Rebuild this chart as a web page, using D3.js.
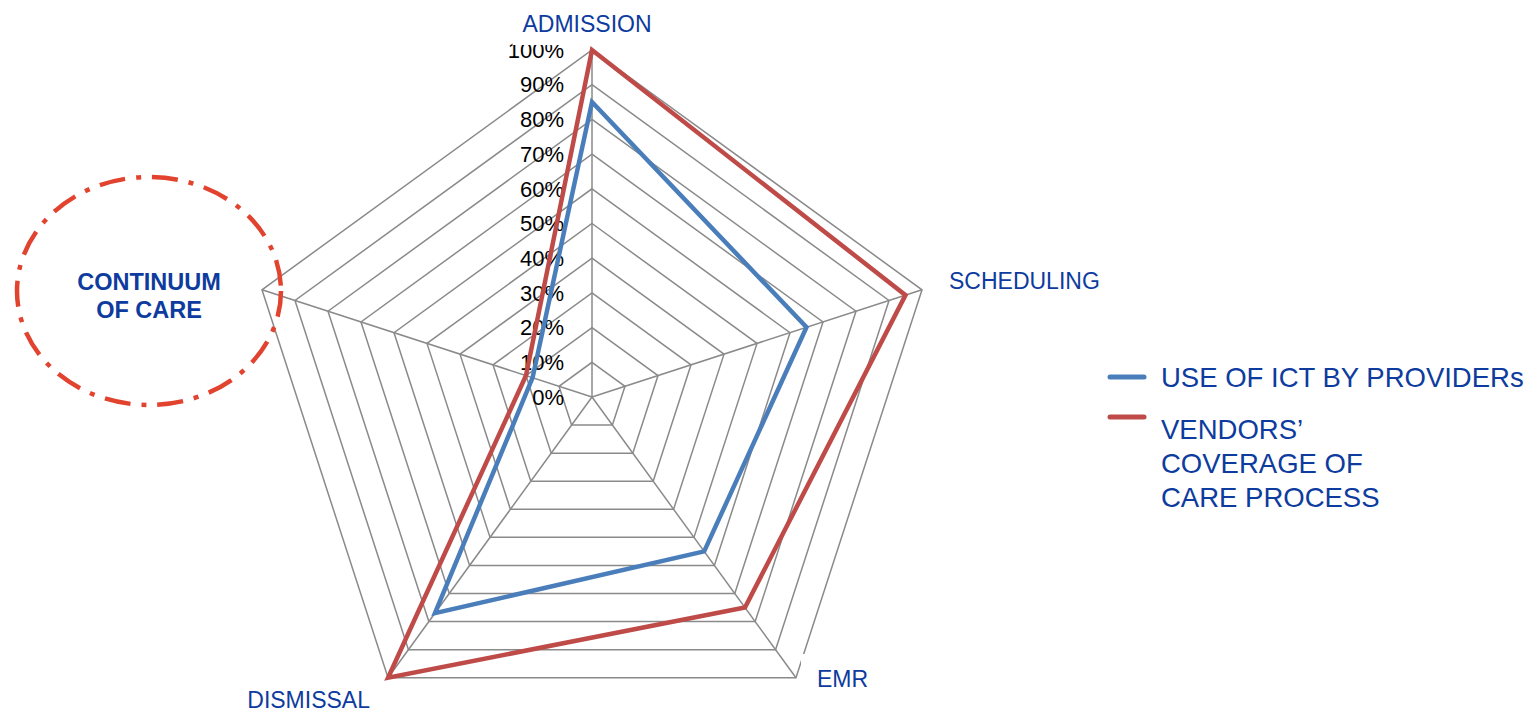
<!DOCTYPE html>
<html>
  <head>
    <meta charset="utf-8">
    <title>Continuum of care radar</title>
    <style>
      body { margin: 0; background: #fff; }
      text { font-family: "Liberation Sans", Arial, sans-serif; }
    </style>
  </head>
  <body>
    <script src="https://d3js.org/d3.v7.min.js"></script>
    <svg id="chart" width="1537" height="712"></svg>
    <script>
      const categories = ["ADMISSION", "SCHEDULING", "EMR", "DISMISSAL", "CONTINUUM OF CARE"]
      const providers = [85, 65, 55, 77, 18]
      const vendors = [100, 95, 75, 100, 20]
      const tickValues = [0, 10, 20, 30, 40, 50, 60, 70, 80, 90, 100]
      const seriesNames = ["USE OF ICT BY PROVIDERs", "VENDORS’\nCOVERAGE OF\nCARE PROCESS"]

      const cx = 592, cy = 397, outer = 347
      const blue = "#4a7ebb", red = "#be4b48", labelBlue = "#0d3b9e"

      const svg = d3.select("#chart")
      const g = svg.append("g").attr("transform", `translate(${cx},${cy})`)

      const r = d3.scaleLinear([0, 100], [0, outer])
      const angle = d3.scaleLinear([0, categories.length], [0, 2 * Math.PI])

      const radial = d3.lineRadial()
        .angle((d, i) => angle(i))
        .radius(d => r(d))
        .curve(d3.curveLinearClosed)

      // grid rings
      g.selectAll("path.ring")
        .data(tickValues.slice(1))
        .join("path")
          .attr("class", "ring")
          .attr("d", t => radial(categories.map(() => t)))
          .attr("fill", "none")
          .attr("stroke", "#8a8a8a")
          .attr("stroke-width", 1.5)

      // spokes
      g.selectAll("line.spoke")
        .data(categories)
        .join("line")
          .attr("class", "spoke")
          .attr("x2", (d, i) => r(100) * Math.sin(angle(i)))
          .attr("y2", (d, i) => -r(100) * Math.cos(angle(i)))
          .attr("stroke", "#8a8a8a")
          .attr("stroke-width", 1.5)

      // tick labels along the first axis
      g.selectAll("text.tick")
        .data(tickValues)
        .join("text")
          .attr("class", "tick")
          .attr("x", -28)
          .attr("y", t => -r(t))
          .attr("dy", "0.35em")
          .attr("text-anchor", "end")
          .style("font-size", "22px")
          .style("fill", "#000")
          .text(t => t + "%")

      // series
      const series = [
        { name: seriesNames[0], values: providers, color: blue },
        { name: seriesNames[1], values: vendors, color: red }
      ]
      g.selectAll("path.series")
        .data(series)
        .join("path")
          .attr("class", "series")
          .attr("d", d => radial(d.values))
          .attr("fill", "none")
          .attr("stroke", d => d.color)
          .attr("stroke-width", 4.5)
          .attr("stroke-linejoin", "miter")

      // axis labels (the fifth one is set inside the ellipse)
      const labelPos = [
        { x: -5, y: -365, anchor: "middle", pad: [10, 8] },
        { x: 357, y: -108, anchor: "start", pad: [0, 0] },
        { x: 225, y: 290, anchor: "start", pad: [16, 12] },
        { x: -222, y: 311, anchor: "end", pad: [0, 0] }
      ]
      categories.slice(0, 4).forEach((c, i) => {
        const p = labelPos[i]
        const bg = g.append("rect").attr("fill", "#fff")
        const t = g.append("text")
          .attr("x", p.x)
          .attr("y", p.y)
          .attr("text-anchor", p.anchor)
          .style("font-size", "23px")
          .style("fill", labelBlue)
          .text(c)
        const b = t.node().getBBox()
        bg.attr("x", b.x - p.pad[0]).attr("y", b.y - p.pad[1])
          .attr("width", b.width + 2 * p.pad[0]).attr("height", b.height + 2 * p.pad[1])
      })

      // continuum of care callout
      const call = svg.append("g").attr("transform", "translate(149,291)")
      call.append("ellipse")
        .attr("rx", 132)
        .attr("ry", 114)
        .attr("fill", "none")
        .attr("stroke", "#e1432f")
        .attr("stroke-width", 4.5)
        .attr("stroke-dasharray", "26 11 5 11")
      call.selectAll("text")
        .data(categories[4].replace("UUM ", "UUM\n").split("\n"))
        .join("text")
          .attr("y", (d, i) => -1 + i * 28)
          .attr("text-anchor", "middle")
          .style("font-size", "23.5px")
          .style("font-weight", "bold")
          .style("fill", labelBlue)
          .text(d => d)

      // legend
      const legend = svg.append("g").attr("transform", "translate(1110,377)")
      const items = legend.selectAll("g")
        .data(series)
        .join("g")
          .attr("transform", (d, i) => `translate(0,${i * 40})`)
      items.append("line")
        .attr("x2", 34)
        .attr("stroke", d => d.color)
        .attr("stroke-width", 5)
        .attr("stroke-linecap", "round")
      items.append("text")
        .attr("x", 51)
        .attr("y", (d, i) => i === 0 ? 10 : 22)
        .style("font-size", "27.5px")
        .style("fill", labelBlue)
        .selectAll("tspan")
        .data(d => d.name.split("\n"))
        .join("tspan")
          .attr("x", 51)
          .attr("dy", (d, i) => i === 0 ? 0 : 34)
          .text(d => d)
    </script>
  </body>
</html>
